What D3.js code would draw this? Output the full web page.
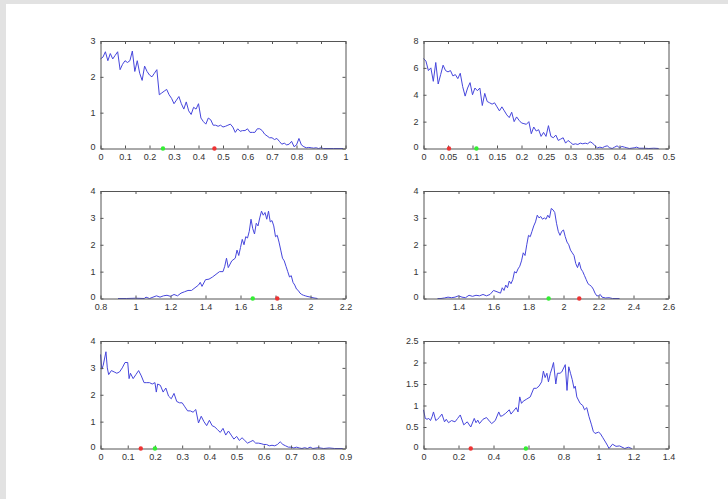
<!DOCTYPE html>
<html>
<head>
<meta charset="utf-8">
<script src="https://cdn.jsdelivr.net/npm/d3@7"></script>
<style>
  body { margin: 0; background: #fff; }
  svg { display: block; }
  .tick text { font-family: "Liberation Sans", Arial, sans-serif; font-size: 9px; fill: #333; }
</style>
</head>
<body>
<script>
//---------------------------------------------------------------------------------DATA

var curve1 = [[0,2.5],[0.01,2.55],[0.02,2.7],[0.03,2.45],[0.04,2.65],[0.05,2.5],[0.06,2.6],[0.07,2.7],[0.08,2.2],[0.09,2.35],
	[0.10,2.45],[0.11,2.4],[0.12,2.45],[0.13,2.72],[0.14,2.15],[0.15,2.45],[0.16,2.1],[0.17,1.9],[0.18,2.3],[0.19,2.15],
	[0.20,2.05],[0.21,2.0],[0.22,2.1],[0.23,2.2],[0.24,1.5],[0.25,1.55],[0.26,1.6],[0.27,1.65],[0.28,1.5],[0.29,1.4],
	[0.30,1.25],[0.31,1.35],[0.32,1.45],[0.33,1.25],[0.34,1.1],[0.35,1.3],[0.36,1.05],[0.37,0.95],[0.38,1.15],[0.39,1.1],
	[0.40,1.25],[0.41,0.85],[0.42,0.75],[0.43,0.68],[0.44,0.85],[0.45,0.8],[0.46,0.65],[0.47,0.65],[0.48,0.62],[0.49,0.65],
	[0.50,0.6],[0.51,0.62],[0.52,0.65],[0.53,0.68],[0.54,0.6],[0.55,0.45],[0.56,0.55],[0.57,0.48],[0.58,0.5],[0.59,0.5],
	[0.60,0.55],[0.61,0.45],[0.62,0.45],[0.63,0.45],[0.64,0.55],[0.65,0.55],[0.66,0.5],[0.67,0.4],[0.68,0.35],[0.69,0.3],
	[0.70,0.3],[0.71,0.25],[0.72,0.28],[0.73,0.2],[0.74,0.12],[0.75,0.15],[0.76,0.1],[0.77,0.12],[0.78,0.2],[0.79,0.05],
	[0.80,0.1],[0.81,0.28],[0.82,0.1],[0.83,0.05],[0.84,0.02],[0.85,0.03],[0.86,0.02],[0.87,0.01],[0.88,0.02],[0.89,0],
	[0.90,0.02],[0.91,0],[0.95,0],[0.99,0]];

var curve2 = [[0,6.7],[0.005,6.5],[0.01,5.8],[0.015,6.0],[0.02,5.0],[0.025,6.4],[0.03,4.8],[0.035,5.5],[0.04,6.2],[0.045,5.8],
	[0.05,5.7],[0.055,5.8],[0.06,5.4],[0.065,5.5],[0.07,5.2],[0.075,5.6],[0.08,4.6],[0.085,3.9],[0.09,4.5],[0.095,4.9],
	[0.10,4.0],[0.105,4.5],[0.11,4.3],[0.115,4.5],[0.12,3.2],[0.125,4.1],[0.13,3.5],[0.135,3.4],[0.14,3.3],[0.145,3.4],
	[0.15,3.1],[0.155,2.8],[0.16,3.1],[0.165,2.8],[0.17,2.5],[0.175,2.3],[0.18,2.7],[0.185,2.0],[0.19,2.35],[0.195,2.1],
	[0.20,1.9],[0.205,1.85],[0.21,1.8],[0.215,2.0],[0.22,1.1],[0.225,1.6],[0.23,1.3],[0.235,1.4],[0.24,0.9],[0.245,1.2],
	[0.25,0.9],[0.255,1.7],[0.26,0.9],[0.265,0.8],[0.27,1.0],[0.275,0.6],[0.28,0.7],[0.285,0.8],[0.29,0.4],[0.295,0.6],
	[0.30,0.45],[0.305,0.3],[0.31,0.35],[0.315,0.3],[0.32,0.4],[0.325,0.35],[0.33,0.4],[0.335,0.35],[0.34,0.5],[0.345,0.4],
	[0.35,0.2],[0.355,0.05],[0.36,0.1],[0.365,0.05],[0.37,0.15],[0.375,0.2],[0.38,0.05],[0.385,0],[0.39,0.1],[0.395,0.2],
	[0.40,0.05],[0.405,0.15],[0.41,0.1],[0.415,0.05],[0.42,0],[0.43,0.05],[0.435,0.1],[0.44,0.02],[0.45,0.02],[0.46,0],
	[0.47,0.02],[0.48,0]];

var curve3 = [[0.9,0],[0.95,0],[1.0,0.01],[1.05,0],[1.06,0.05],[1.08,0],[1.1,0.05],[1.12,0.1],[1.14,0.05],[1.16,0.1],
	[1.18,0.12],[1.2,0.08],[1.22,0.15],[1.24,0.1],[1.26,0.2],[1.28,0.25],[1.30,0.3],[1.32,0.3],[1.34,0.4],[1.36,0.5],
	[1.37,0.6],[1.38,0.45],[1.40,0.7],[1.42,0.72],[1.44,0.8],[1.46,0.9],[1.48,1.0],[1.50,1.0],[1.51,1.2],[1.52,1.5],
	[1.53,1.15],[1.55,1.4],[1.57,1.5],[1.58,1.8],[1.59,1.6],[1.60,1.9],[1.61,2.2],[1.62,2.0],[1.63,2.3],[1.64,2.25],
	[1.65,2.5],[1.66,2.95],[1.67,2.6],[1.68,2.4],[1.69,2.8],[1.70,2.7],[1.71,3.0],[1.72,3.25],[1.73,3.1],[1.74,3.2],
	[1.75,2.95],[1.76,3.25],[1.77,2.85],[1.78,2.9],[1.79,2.7],[1.80,2.3],[1.81,2.35],[1.82,2.1],[1.83,1.8],[1.84,1.5],
	[1.85,1.4],[1.86,1.2],[1.87,1.0],[1.88,0.8],[1.89,0.85],[1.90,0.6],[1.91,0.5],[1.92,0.35],[1.93,0.3],[1.94,0.2],
	[1.95,0.15],[1.96,0.12],[1.97,0.1],[1.98,0.08],[2.00,0.05],[2.02,0.02],[2.04,0]];

var curve4 = [[1.28,0],[1.30,0],[1.32,0.02],[1.34,0.05],[1.36,0.03],[1.38,0.05],[1.40,0.1],[1.42,0.05],[1.44,0.03],[1.46,0.12],
	[1.48,0.08],[1.50,0.12],[1.52,0.1],[1.54,0.15],[1.56,0.1],[1.58,0.15],[1.60,0.3],[1.62,0.25],[1.64,0.2],[1.65,0.4],
	[1.66,0.3],[1.67,0.5],[1.68,0.4],[1.69,0.65],[1.70,0.55],[1.71,0.7],[1.72,1.0],[1.73,0.95],[1.74,1.1],[1.75,1.2],
	[1.76,1.4],[1.77,1.7],[1.78,1.6],[1.79,2.0],[1.80,2.35],[1.81,2.3],[1.82,2.5],[1.83,2.7],[1.84,2.85],[1.85,3.1],
	[1.86,3.0],[1.87,3.05],[1.88,2.95],[1.89,3.0],[1.90,2.95],[1.91,3.1],[1.92,3.0],[1.93,3.35],[1.94,3.3],[1.95,3.2],
	[1.96,2.8],[1.97,2.5],[1.98,2.35],[1.99,2.5],[2.00,2.55],[2.01,2.3],[2.02,2.1],[2.03,2.0],[2.04,1.8],[2.05,1.7],
	[2.06,1.6],[2.07,1.3],[2.08,1.15],[2.09,1.35],[2.10,1.1],[2.11,1.0],[2.12,0.85],[2.13,0.7],[2.14,0.55],[2.15,0.5],
	[2.16,0.45],[2.17,0.35],[2.18,0.2],[2.19,0.1],[2.20,0.1],[2.21,0.15],[2.22,0.05],[2.24,0.02],[2.26,0.03],[2.28,0],
	[2.30,0],[2.32,0]];

var curve5 = [[0,3.5],[0.005,2.95],[0.01,3.1],[0.02,3.6],[0.025,3.0],[0.03,2.75],[0.04,2.9],[0.05,2.85],[0.06,2.8],[0.07,2.85],
	[0.08,3.0],[0.09,3.2],[0.10,3.2],[0.105,2.6],[0.11,2.8],[0.12,2.6],[0.13,2.75],[0.14,2.9],[0.15,2.7],[0.16,2.45],
	[0.17,2.45],[0.18,2.45],[0.19,2.4],[0.20,2.45],[0.205,2.1],[0.21,2.4],[0.22,2.35],[0.23,2.1],[0.24,2.25],[0.25,1.95],
	[0.26,1.85],[0.27,2.05],[0.28,1.75],[0.29,1.7],[0.30,1.7],[0.31,1.55],[0.32,1.4],[0.33,1.4],[0.34,1.35],[0.35,1.45],
	[0.36,0.95],[0.37,1.2],[0.38,1.0],[0.39,0.85],[0.40,1.05],[0.41,0.85],[0.42,0.8],[0.43,0.7],[0.44,0.6],[0.45,0.75],
	[0.46,0.5],[0.47,0.65],[0.48,0.5],[0.49,0.35],[0.50,0.45],[0.51,0.3],[0.52,0.4],[0.53,0.3],[0.54,0.2],[0.55,0.25],
	[0.56,0.3],[0.57,0.2],[0.58,0.2],[0.59,0.18],[0.60,0.15],[0.61,0.15],[0.62,0.1],[0.63,0.12],[0.64,0.1],[0.65,0.15],
	[0.66,0.25],[0.67,0.15],[0.68,0.1],[0.69,0.05],[0.70,0.05],[0.71,0.02],[0.72,0.05],[0.73,0.02],[0.74,0],[0.75,0.03],
	[0.76,0],[0.77,0.05],[0.78,0],[0.80,0.03],[0.82,0],[0.84,0.02],[0.86,0],[0.89,0]];

var curve6 = [[0,0.9],[0.01,0.7],[0.02,0.68],[0.03,0.7],[0.04,0.65],[0.05,0.75],[0.057,0.85],[0.07,0.65],[0.08,0.68],[0.09,0.72],
	[0.105,0.8],[0.12,0.62],[0.13,0.68],[0.143,0.6],[0.16,0.65],[0.18,0.62],[0.195,0.7],[0.21,0.78],[0.23,0.55],[0.25,0.62],
	[0.27,0.5],[0.29,0.7],[0.30,0.6],[0.31,0.66],[0.32,0.58],[0.34,0.68],[0.36,0.72],[0.38,0.62],[0.39,0.58],[0.41,0.65],
	[0.43,0.85],[0.44,0.75],[0.45,0.76],[0.47,0.82],[0.49,0.9],[0.50,0.8],[0.51,0.85],[0.53,0.95],[0.54,0.85],[0.55,1.2],
	[0.56,1.05],[0.57,1.1],[0.59,1.15],[0.61,1.2],[0.63,1.4],[0.645,1.4],[0.66,1.45],[0.675,1.55],[0.685,1.8],[0.695,1.65],
	[0.705,1.75],[0.714,1.55],[0.725,1.75],[0.733,1.85],[0.743,2.0],[0.756,1.5],[0.765,1.75],[0.78,1.75],[0.79,1.78],[0.81,1.95],
	[0.82,1.35],[0.83,1.9],[0.84,1.75],[0.85,1.6],[0.86,1.4],[0.867,1.45],[0.876,1.2],[0.895,1.05],[0.91,1.0],[0.92,0.9],
	[0.933,0.95],[0.945,0.75],[0.96,0.55],[0.97,0.4],[0.98,0.35],[1.0,0.38],[1.01,0.35],[1.025,0.25],[1.04,0.15],[1.05,0.08],
	[1.06,0],[1.08,0.1],[1.10,0.05],[1.12,0.06],[1.14,0.02],[1.15,0],[1.17,0.03],[1.19,0]];

// x / y ranges and tick values of each panel
var xDomains = [[0,1],[0,0.5],[0.8,2.2],[1.2,2.6],[0,0.9],[0,1.4]];
var yDomains = [[0,3],[0,8],[0,4],[0,4],[0,4],[0,2.5]];
var xTicks = [
	[0,0.1,0.2,0.3,0.4,0.5,0.6,0.7,0.8,0.9,1],
	[0,0.05,0.1,0.15,0.2,0.25,0.3,0.35,0.4,0.45,0.5],
	[0.8,1,1.2,1.4,1.6,1.8,2,2.2],
	[1.2,1.4,1.6,1.8,2,2.2,2.4,2.6],
	[0,0.1,0.2,0.3,0.4,0.5,0.6,0.7,0.8,0.9],
	[0,0.2,0.4,0.6,0.8,1,1.2,1.4]];
var yTicks = [[0,1,2,3],[0,2,4,6,8],[0,1,2,3,4],[0,1,2,3,4],[0,1,2,3,4],[0,0.5,1,1.5,2,2.5]];
var hiddenXLabel = [null,null,null,1.2,null,null];

// the two dots on the x axis
var greenMarks = [0.255, 0.108, 1.67, 1.915, 0.2, 0.585];
var redMarks = [0.465, 0.052, 1.81, 2.09, 0.148, 0.27];

var curves = [curve1, curve2, curve3, curve4, curve5, curve6];

//---------------------------------------------------------------------------------LAYOUT

var W = 728, H = 499;
var colX = [100.5, 423.5];
var rowY = [41, 191, 341];
var plotW = 245, plotH = 107.5;

var svg = d3.select("body").append("svg").attr("width", W).attr("height", H);

// grey slide edge
svg.append("rect").attr("x",0).attr("y",0).attr("width",W).attr("height",H).attr("fill","#e2e2e2");
svg.append("rect").attr("x",6).attr("y",4).attr("width",W-6).attr("height",H-4).attr("fill","#fff");

function drawPanel(i){
	var px = colX[i % 2], py = rowY[Math.floor(i / 2)];
	var g = svg.append("g").attr("transform", "translate(" + px + "," + py + ")");

	var x = d3.scaleLinear().domain(xDomains[i]).range([0, plotW]);
	var y = d3.scaleLinear().domain(yDomains[i]).range([plotH, 0]);

	g.append("rect").attr("width", plotW).attr("height", plotH).attr("fill", "#fff");

	var line = d3.line().x(function(d){ return x(d[0]); }).y(function(d){ return y(d[1]); });
	g.append("path").datum(curves[i])
		.attr("d", line)
		.attr("fill", "none")
		.attr("stroke", "#4646dc")
		.attr("stroke-width", 1)
		.attr("stroke-linejoin", "round");

	var fmt = function(d){ return d === hiddenXLabel[i] ? "" : d3.format("")(d); };

	var axes = [
		{ ax: d3.axisBottom(x).tickValues(xTicks[i]).tickFormat(fmt), t: "translate(0," + plotH + ")", pad: 5 },
		{ ax: d3.axisTop(x).tickValues(xTicks[i]).tickFormat(""), t: "translate(0,0)", pad: 4 },
		{ ax: d3.axisLeft(y).tickValues(yTicks[i]).tickFormat(d3.format("")), t: "translate(0,0)", pad: 5 },
		{ ax: d3.axisRight(y).tickValues(yTicks[i]).tickFormat(""), t: "translate(" + plotW + ",0)", pad: 4 }
	];
	axes.forEach(function(a, k){
		var ag = g.append("g").attr("transform", a.t)
			.call(a.ax.tickSizeInner(-3).tickSizeOuter(0).tickPadding(a.pad));
		ag.select(".domain").attr("stroke", "#555");
		ag.selectAll(".tick line").attr("stroke", "#555");
		ag.selectAll(".tick text").attr("fill", "#333");
		// lift the y "0" a little so it clears the first x label
		if (k === 2) ag.selectAll(".tick text").filter(function(d){ return d === 0; }).attr("dy", "0.1em");
	});

	g.append("circle").attr("cx", x(greenMarks[i])).attr("cy", plotH).attr("r", 2.2).attr("fill", "#33ee33");
	g.append("circle").attr("cx", x(redMarks[i])).attr("cy", plotH).attr("r", 2.2).attr("fill", "#ee3333");
}

for (var i = 0; i < 6; i++) drawPanel(i);
</script>
</body>
</html>
